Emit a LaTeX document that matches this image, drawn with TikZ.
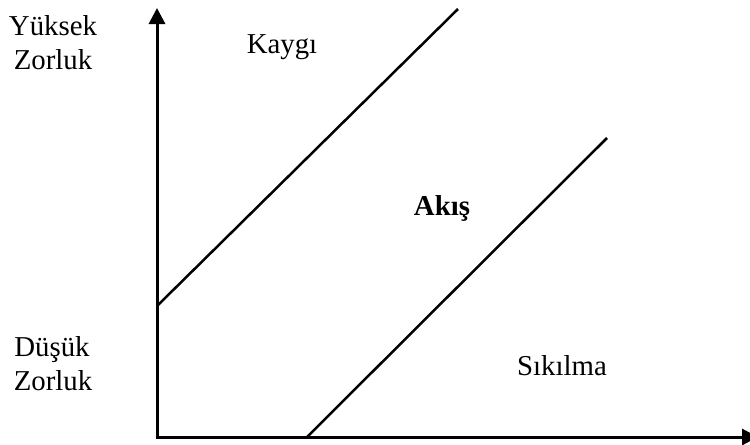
\documentclass[tikz,border=0pt]{standalone}
\usepackage{fontspec}
\setmainfont{Liberation Serif}
\usetikzlibrary{arrows.meta}
\begin{document}
\begin{tikzpicture}[x=0.02cm, y=-0.02cm, >={Triangle[length=0.32cm, width=0.32cm]},
    every node/.style={font=\fontsize{16.4}{20}\selectfont, anchor=base, inner sep=0pt}]
            \useasboundingbox (0,0) rectangle (750,444);
            % axes
            \coordinate (o) at (157,437);
            \coordinate (ytop) at (157,8);
            \coordinate (xend) at (758,437);
            \draw[->, line width=0.06cm] (o) -- (ytop);
            \draw[->, line width=0.06cm] (155.5,437) -- (xend);

            % channel borders
            \coordinate (a0) at (157,306);
            \coordinate (a1) at (458,9);
            \coordinate (b0) at (307,437);
            \coordinate (b1) at (607,138);
            \draw[line width=0.05cm] (a0) -- (a1);
            \draw[line width=0.05cm] (b0) -- (b1);

            \node (hi1) at (53,35) {Yüksek};
            \node (hi2) at (53,69) {Zorluk};
            \node (lo1) at (52,356) {Düşük};
            \node (lo2) at (53,390) {Zorluk};
            \node (anx) at (282,53) {Kaygı};
            \node[font=\fontsize{16.4}{20}\selectfont\bfseries] (flow) at (442,215) {Akış};
            \node (bor) at (562,375) {Sıkılma};
        \end{tikzpicture}
\end{document}
